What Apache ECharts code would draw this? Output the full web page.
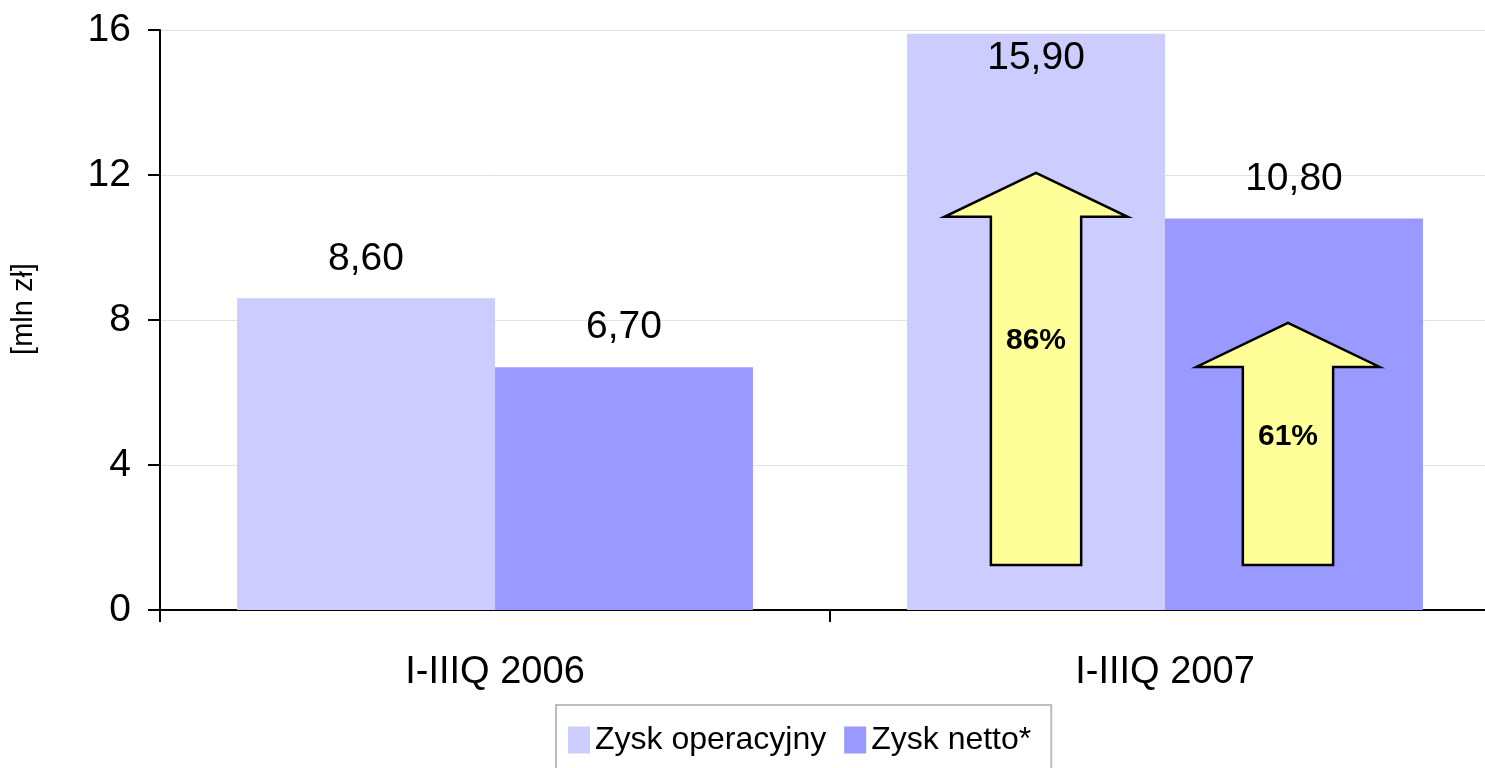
<!DOCTYPE html>
<html>
<head>
<meta charset="utf-8">
<script src="https://cdn.jsdelivr.net/npm/echarts@6/dist/echarts.min.js"></script>
<style>
  html, body { margin: 0; padding: 0; background: #fff; }
  #chart { width: 1485px; height: 768px; }
</style>
</head>
<body>
<div id="chart"></div>
<script>
// data
var categories = ["I-IIIQ 2006", "I-IIIQ 2007"];
var seriesNames = ["Zysk operacyjny", "Zysk netto*"];
var operatingProfit = [8.6, 15.9];
var netProfit = [6.7, 10.8];
var yTicks = [0, 4, 8, 12, 16];

// growth arrows: category index, tip value, bottom value, label value, which bar (-1 left / 1 right)
var arrowCategory = [1, 1];
var arrowTip = [12.06, 7.92];
var arrowBottom = [1.24, 1.24];
var arrowLabelAt = [7.42, 4.77];
var arrowSide = [-1, 1];
var arrowLabels = ["86%", "61%"];

var FONT = "'Liberation Sans', Arial, sans-serif";
var CAT_GAP = 0.23;

function fmt(v) {
  return v.toFixed(2).replace(".", ",");
}

var arrowData = arrowCategory.map(function (c, i) {
  return [c, arrowTip[i], arrowBottom[i], arrowLabelAt[i], arrowSide[i], i];
});

var chart = echarts.init(document.getElementById("chart"), null, { renderer: "canvas" });

chart.setOption({
  animation: false,
  textStyle: { fontFamily: FONT },
  // plot runs past the right edge of the picture, as in the original crop
  grid: { left: 160, top: 30, width: 1340, height: 580, containLabel: false, outerBoundsMode: "none" },
  legend: {
    data: seriesNames,
    left: 556,
    top: 705,
    padding: [19, 20, 20, 12],
    itemWidth: 22,
    itemHeight: 27,
    itemGap: 18,
    borderColor: "#bdbdbd",
    borderWidth: 2,
    borderRadius: 0,
    icon: "rect",
    textStyle: { fontSize: 32, color: "#000", fontFamily: FONT }
  },
  xAxis: {
    type: "category",
    data: categories,
    axisLine: { lineStyle: { color: "#000", width: 2 } },
    axisTick: { show: true, length: 12, lineStyle: { color: "#000", width: 2 } },
    axisLabel: { color: "#000", fontSize: 38, margin: 44, fontFamily: FONT }
  },
  yAxis: {
    type: "value",
    min: yTicks[0],
    max: yTicks[yTicks.length - 1],
    interval: 4,
    name: "[mln zł]",
    nameLocation: "middle",
    nameGap: 122,
    nameTextStyle: { color: "#000", fontSize: 29, fontFamily: FONT, padding: [0, 0, 0, 22] },
    axisLine: { show: true, lineStyle: { color: "#000", width: 2 } },
    axisTick: { show: true, length: 12, lineStyle: { color: "#000", width: 2 } },
    axisLabel: { color: "#000", fontSize: 39, margin: 29, fontFamily: FONT },
    splitLine: { lineStyle: { color: "#e2e2e2", width: 1 } }
  },
  series: [
    {
      name: seriesNames[0],
      type: "bar",
      barGap: 0,
      barCategoryGap: (CAT_GAP * 100) + "%",
      itemStyle: { color: "#CCCCFF" },
      label: {
        show: true, position: "top", distance: 20,
        fontSize: 39, color: "#000", fontFamily: FONT,
        formatter: function (p) { return fmt(p.value); }
      },
      data: operatingProfit.map(function (v) {
        // the tallest bar has its label inside, as in the original
        return v > 15 ? { value: v, label: { position: "insideTop", distance: 5 } } : v;
      })
    },
    {
      name: seriesNames[1],
      type: "bar",
      barGap: 0,
      barCategoryGap: (CAT_GAP * 100) + "%",
      itemStyle: { color: "#9999FF" },
      label: {
        show: true, position: "top", distance: 20,
        fontSize: 39, color: "#000", fontFamily: FONT,
        formatter: function (p) { return fmt(p.value); }
      },
      data: netProfit
    },
    {
      name: "arrows",
      type: "custom",
      z: 5,
      silent: true,
      renderItem: function (params, api) {
        var cat = api.value(0);
        var band = api.size([1, 0])[0];
        var barW = band * (1 - CAT_GAP) / 2;
        var cx = api.coord([cat, 0])[0] + api.value(4) * (barW / 2 - 3) - 3;
        var tipY = api.coord([cat, api.value(1)])[1];
        var botY = api.coord([cat, api.value(2)])[1];
        var labY = api.coord([cat, api.value(3)])[1];
        var headH = 44;
        var headHalf = barW * 0.355;
        var shaftHalf = barW * 0.175;
        var baseY = tipY + headH;
        return {
          type: "group",
          children: [
            {
              type: "polygon",
              shape: {
                points: [
                  [cx, tipY],
                  [cx + headHalf, baseY],
                  [cx + shaftHalf, baseY],
                  [cx + shaftHalf, botY],
                  [cx - shaftHalf, botY],
                  [cx - shaftHalf, baseY],
                  [cx - headHalf, baseY]
                ]
              },
              style: { fill: "#FFFF99", stroke: "#000", lineWidth: 2.5, lineJoin: "miter" }
            },
            {
              type: "text",
              style: {
                text: arrowLabels[api.value(5)],
                x: cx,
                y: labY,
                align: "center",
                verticalAlign: "middle",
                fontSize: 30,
                fontWeight: "bold",
                fontFamily: FONT,
                fill: "#000"
              }
            }
          ]
        };
      },
      data: arrowData
    }
  ]
});
</script>
</body>
</html>
